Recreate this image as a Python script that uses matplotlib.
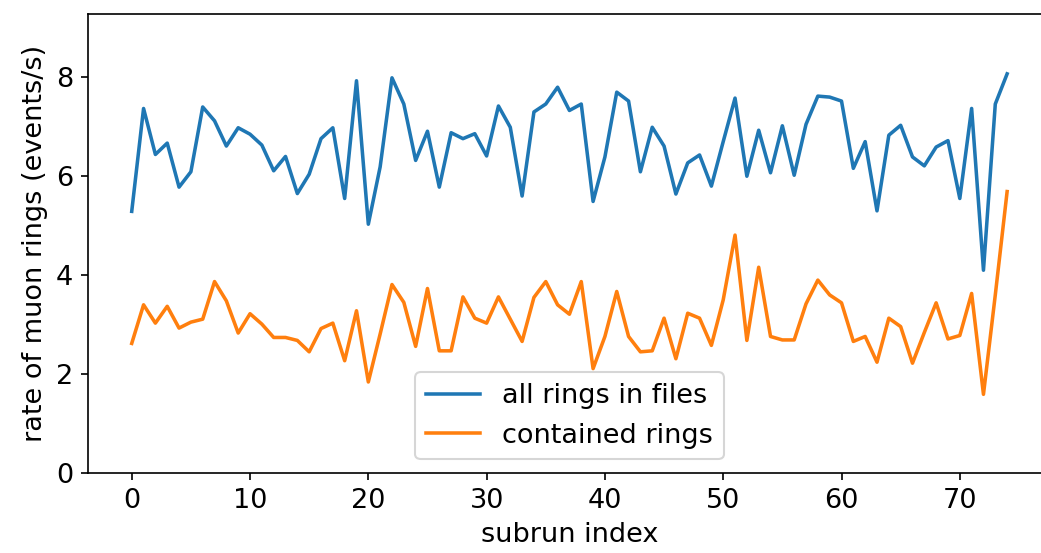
import numpy as np
import matplotlib
matplotlib.use('Agg')
import matplotlib.pyplot as plt

# rates per subrun (events/s)
all_rings = [5.29, 7.37, 6.44, 6.67, 5.78, 6.09, 7.40, 7.12, 6.61, 6.98,
             6.85, 6.63, 6.11, 6.40, 5.65, 6.04, 6.76, 6.98, 5.55, 7.93,
             5.03, 6.19, 7.99, 7.46, 6.32, 6.91, 5.78, 6.88, 6.76, 6.86,
             6.41, 7.42, 6.99, 5.60, 7.30, 7.46, 7.80, 7.33, 7.46, 5.49,
             6.39, 7.70, 7.52, 6.09, 6.99, 6.61, 5.64, 6.27, 6.43, 5.80,
             6.70, 7.58, 6.00, 6.93, 6.07, 7.02, 6.02, 7.05, 7.62, 7.60,
             7.52, 6.16, 6.70, 5.30, 6.83, 7.03, 6.39, 6.21, 6.59, 6.72,
             5.55, 7.37, 4.10, 7.46, 8.07]
contained = [2.62, 3.40, 3.03, 3.37, 2.93, 3.05, 3.11, 3.87, 3.48, 2.83,
             3.22, 3.01, 2.74, 2.74, 2.68, 2.45, 2.92, 3.03, 2.27, 3.28,
             1.84, 2.81, 3.81, 3.45, 2.56, 3.73, 2.47, 2.47, 3.56, 3.13,
             3.03, 3.56, 3.11, 2.66, 3.55, 3.87, 3.40, 3.21, 3.87, 2.11,
             2.76, 3.67, 2.76, 2.45, 2.47, 3.13, 2.31, 3.23, 3.13, 2.58,
             3.50, 4.81, 2.68, 4.16, 2.76, 2.69, 2.69, 3.42, 3.90, 3.60,
             3.44, 2.66, 2.76, 2.24, 3.13, 2.96, 2.22, 2.84, 3.44, 2.71,
             2.78, 3.63, 1.59, 3.60, 5.69]
subrun = np.arange(len(all_rings))

plt.rcParams['font.size'] = 13
plt.rcParams['lines.linewidth'] = 1.7

fig = plt.figure(figsize=(1041 / 150, 553 / 150), dpi=150)
# the original is cut off on the right, so the axes run past the figure edge
ax = fig.add_axes([0.0845, 0.1447, 0.925, 0.830])

ax.plot(subrun, all_rings, label='all rings in files')
ax.plot(subrun, contained, label='contained rings')

ax.set_ylim(0, 1.15 * max(max(all_rings), max(contained)))
ax.set_xlabel('subrun index')
ax.set_ylabel('rate of muon rings (events/s)')
ax.legend(loc='lower center')

fig.savefig('out.png', dpi=150)
